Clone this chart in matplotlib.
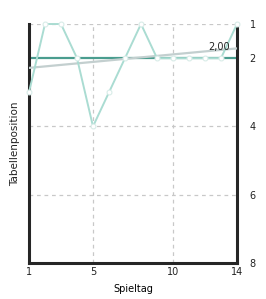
import numpy as np
import matplotlib
matplotlib.use("Agg")
import matplotlib.pyplot as plt

# Tabellenposition pro Spieltag
spieltag = [1, 2, 3, 4, 5, 6, 7, 8, 9, 10, 11, 12, 13, 14]
position = [3, 1, 1, 2, 4, 3, 2, 1, 2, 2, 2, 2, 2, 1]
x_ticks = [1, 5, 10, 14]
y_ticks = [1, 2, 4, 6, 8]

x = np.array(spieltag)
y = np.array(position)
mean_pos = y.mean()
slope, intercept = np.polyfit(x, y, 1)

fig = plt.figure(figsize=(2.66, 2.99), dpi=100)
ax = fig.add_axes([0.109, 0.1204, 0.782, 0.7993])

ax.set_xlim(1, 14)
ax.set_ylim(8, 1)

# grid
for gx in [5, 10]:
    ax.axvline(gx, color="#c8c8c8", lw=0.9, ls=(0, (3, 3)), zorder=1)
for gy in [1, 4, 6]:
    ax.axhline(gy, color="#c8c8c8", lw=0.9, ls=(0, (3, 3)), zorder=1)

# Durchschnitt
ax.axhline(mean_pos, color="#4a9d8f", lw=1.6, zorder=2)
# Trend
ax.plot([x[0], x[-1]], [intercept + slope * x[0], intercept + slope * x[-1]],
        color="#c3cfcf", lw=1.6, zorder=3)
ax.text(13.55, intercept + slope * 13.55 - 0.07, f"{mean_pos:.2f}".replace(".", ","),
        ha="right", va="center", fontsize=7, color="#222222", zorder=5)

ax.plot(x, y, color="#aadcd2", lw=1.4, marker="o", ms=3.5, mfc="white",
        mec="#d8ece8", mew=0.8, zorder=4, clip_on=False)

for side in ["left", "right", "bottom"]:
    ax.spines[side].set_linewidth(2.2)
    ax.spines[side].set_color("#262626")
ax.spines["top"].set_visible(False)

ax.set_xticks(x_ticks)
ax.set_yticks(y_ticks)
ax.yaxis.tick_right()
ax.tick_params(axis="both", length=0, labelsize=7, colors="#222222")
ax.tick_params(axis="y", pad=9)
ax.tick_params(axis="x", pad=3)

ax.set_xlabel("Spieltag", fontsize=7, labelpad=5)
fig.text(0.055, 0.52, "Tabellenposition", rotation=90, fontsize=7.5,
         ha="center", va="center", color="#222222")

fig.savefig("out.png", dpi=100)
